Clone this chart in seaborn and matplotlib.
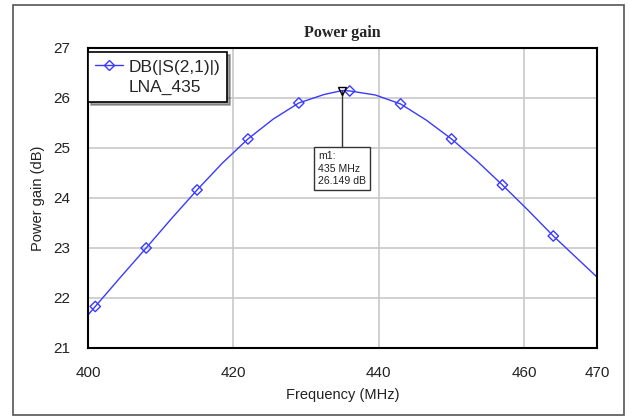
import matplotlib
matplotlib.use("Agg")
from matplotlib import pyplot as plt
from matplotlib.lines import Line2D
from matplotlib.patches import Rectangle
import seaborn as sns

# values
line_freq = [400, 401, 404.5, 408, 411.5, 415, 418.5, 422, 425.5, 429, 432.5, 435,
             436, 439.5, 443, 446.5, 450, 453.5, 457, 460.5, 464, 467, 470]
line_gain = [21.66, 21.83, 22.42, 23.0, 23.59, 24.16, 24.70, 25.18, 25.58, 25.9, 26.07, 26.149,
             26.14, 26.06, 25.88, 25.56, 25.18, 24.74, 24.26, 23.76, 23.24, 22.83, 22.42]
marker_freq = [401, 408, 415, 422, 429, 436, 443, 450, 457, 464]
marker_gain = [21.83, 23.0, 24.16, 25.18, 25.9, 26.14, 25.88, 25.18, 24.26, 23.24]
m1_freq = 435
m1_gain = 26.149
x_ticks = [400, 420, 440, 460, 470]
y_ticks = [21, 22, 23, 24, 25, 26, 27]

sns.set_style("white")
plt.rcParams["font.family"] = ["Liberation Sans", "DejaVu Sans"]

blue = "#3a3aff"
fig = plt.figure(figsize=(6.33, 4.17), dpi=100)
ax = fig.add_axes([0.139, 0.1655, 0.804, 0.7195])

sns.lineplot(x=line_freq, y=line_gain, ax=ax, color=blue, linewidth=1.0, sort=True)
sns.scatterplot(x=marker_freq, y=marker_gain, ax=ax, marker="D", s=28,
                facecolor="none", edgecolor=blue, linewidth=1.0, zorder=4)

ax.set_xlim(400, 470)
ax.set_ylim(21, 27)
ax.set_xticks(x_ticks)
ax.set_yticks(y_ticks)
ax.tick_params(axis="both", length=0, labelsize=11, colors="#222222")
ax.tick_params(axis="x", pad=13)
ax.tick_params(axis="y", pad=13)
ax.grid(True, color="#c8c8c8", linewidth=1.2)
for s in ax.spines.values():
    s.set_color("black")
    s.set_linewidth(1.5)

ax.set_xlabel("Frequency (MHz)", fontsize=10.5, labelpad=6, color="#222222")
ax.set_ylabel("Power gain (dB)", fontsize=10.5, labelpad=6, color="#222222")
ax.set_title("Power gain", fontsize=11.5, fontweight="bold",
             family=["Liberation Serif", "DejaVu Serif"], pad=8)

# marker m1
ax.plot([m1_freq], [m1_gain], marker="v", color="black", markerfacecolor="none",
        markersize=6, zorder=5)
ax.plot([m1_freq, m1_freq], [m1_gain, 25.0], color="#333333", linewidth=1.0)
ax.annotate("m1:\n435 MHz\n26.149 dB", xy=(m1_freq - 3.35, 24.93), xycoords="data",
            ha="left", va="top", fontsize=7.6, color="#222222", linespacing=1.3,
            bbox=dict(boxstyle="square,pad=0.4", facecolor="white", edgecolor="#333333",
                      linewidth=1.0))

handles = [Line2D([], [], color=blue, marker="D", markersize=5, markerfacecolor="none",
                  linewidth=1.0),
           Line2D([], [], color="none")]
leg = ax.legend(handles, ["DB(|S(2,1)|)", "LNA_435"], loc="upper left",
                bbox_to_anchor=(0.0, 0.985), borderaxespad=0, fontsize=12.5,
                frameon=True, fancybox=False, shadow=True, handlelength=1.6,
                handletextpad=0.35, borderpad=0.4, labelspacing=0.3)
leg.get_frame().set_edgecolor("black")
leg.get_frame().set_linewidth(1.2)

# outer frame
fig.patches.append(Rectangle((13 / 633, 2 / 417), 611 / 633, 410 / 417,
                             transform=fig.transFigure, fill=False,
                             edgecolor="#555555", linewidth=1.2))

fig.savefig("out.png", dpi=100)
